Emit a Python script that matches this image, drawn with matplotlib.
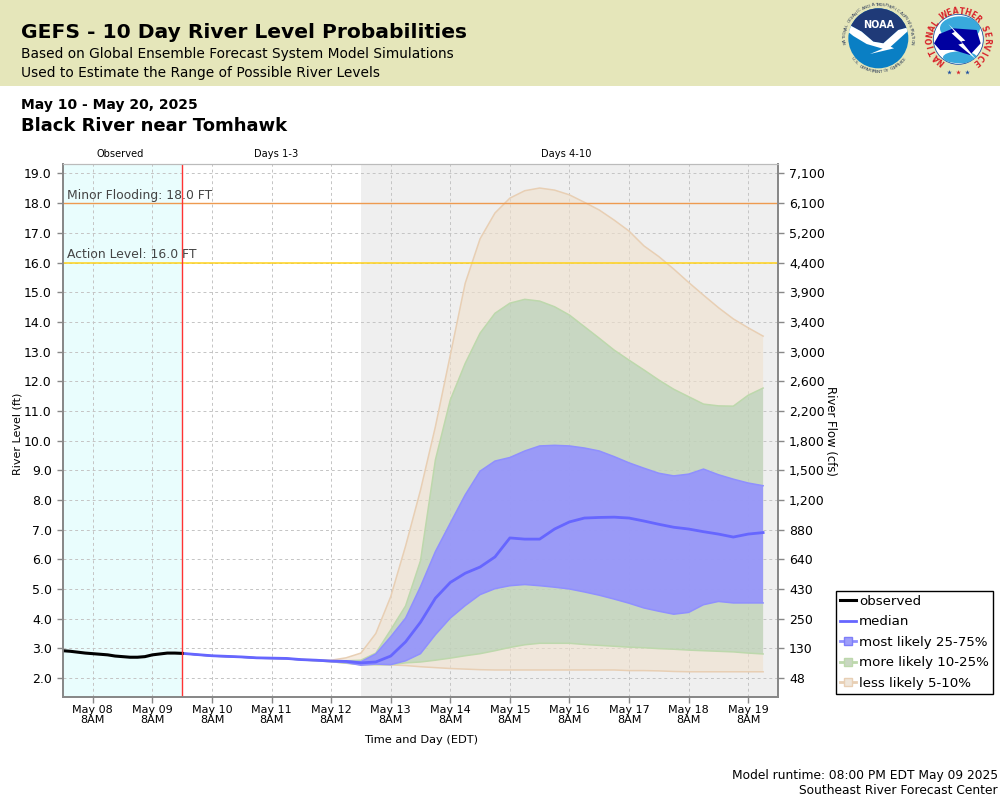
import numpy as np
import pandas as pd
import matplotlib
matplotlib.use('Agg')
import matplotlib.pyplot as plt
from matplotlib.lines import Line2D
from matplotlib.patches import Circle, Polygon, Ellipse, Rectangle

plt.rcParams['font.family'] = ['DejaVu Sans']

# --- Data ---
obs_times = pd.date_range('2025-05-07 20:00', periods=17, freq='3h')
observed = [2.92, 2.90, 2.87, 2.84, 2.82, 2.80, 2.78, 2.74, 2.72, 2.70, 2.70, 2.72, 2.78, 2.81, 2.84, 2.84, 2.83]

fc_times = pd.date_range('2025-05-09 20:00', periods=40, freq='6h')
median = [2.83, 2.79, 2.75, 2.73, 2.71, 2.68, 2.67, 2.66, 2.62, 2.60, 2.57, 2.56, 2.51, 2.54, 2.74, 3.22, 3.88, 4.69, 5.22, 5.53,
          5.74, 6.08, 6.72, 6.68, 6.68, 7.02, 7.26, 7.39, 7.41, 7.42, 7.39, 7.29, 7.18, 7.08, 7.02, 6.93, 6.85, 6.75, 6.85, 6.90]
p95 = [2.83, 2.79, 2.75, 2.73, 2.71, 2.68, 2.67, 2.66, 2.63, 2.61, 2.60, 2.68, 2.84, 3.50, 4.74, 6.45, 8.33, 10.47, 12.88, 15.30,
       16.80, 17.67, 18.17, 18.42, 18.51, 18.44, 18.28, 18.03, 17.77, 17.43, 17.06, 16.56, 16.20, 15.78, 15.33, 14.90, 14.48, 14.10, 13.80, 13.52]
p90 = [2.83, 2.79, 2.75, 2.73, 2.71, 2.68, 2.67, 2.66, 2.62, 2.60, 2.58, 2.58, 2.60, 2.84, 3.62, 4.43, 5.95, 9.35, 11.37, 12.60,
       13.62, 14.29, 14.63, 14.76, 14.70, 14.51, 14.23, 13.84, 13.45, 13.05, 12.71, 12.38, 12.04, 11.73, 11.48, 11.23, 11.17, 11.16, 11.53, 11.77]
p75 = [2.83, 2.79, 2.75, 2.73, 2.71, 2.68, 2.67, 2.66, 2.62, 2.60, 2.57, 2.57, 2.55, 2.81, 3.39, 4.02, 5.08, 6.26, 7.22, 8.17,
       8.97, 9.31, 9.43, 9.65, 9.82, 9.84, 9.82, 9.75, 9.65, 9.46, 9.25, 9.07, 8.90, 8.81, 8.87, 9.04, 8.85, 8.70, 8.57, 8.48]
p25 = [2.83, 2.78, 2.74, 2.72, 2.70, 2.67, 2.66, 2.65, 2.61, 2.59, 2.56, 2.52, 2.43, 2.47, 2.45, 2.58, 2.82, 3.46, 4.02, 4.44,
       4.81, 5.01, 5.11, 5.15, 5.11, 5.06, 5.00, 4.90, 4.79, 4.66, 4.52, 4.36, 4.25, 4.15, 4.21, 4.47, 4.58, 4.53, 4.53, 4.53]
p10 = [2.83, 2.78, 2.74, 2.72, 2.70, 2.67, 2.66, 2.65, 2.61, 2.58, 2.55, 2.50, 2.45, 2.45, 2.45, 2.51, 2.54, 2.60, 2.67, 2.75,
       2.82, 2.92, 3.03, 3.12, 3.17, 3.17, 3.17, 3.13, 3.10, 3.07, 3.04, 3.02, 2.99, 2.97, 2.94, 2.92, 2.90, 2.88, 2.84, 2.81]
p05 = [2.83, 2.78, 2.74, 2.72, 2.70, 2.67, 2.66, 2.65, 2.61, 2.58, 2.55, 2.50, 2.46, 2.45, 2.44, 2.42, 2.38, 2.35, 2.32, 2.30,
       2.28, 2.27, 2.27, 2.27, 2.27, 2.27, 2.27, 2.27, 2.27, 2.27, 2.25, 2.25, 2.24, 2.22, 2.21, 2.21, 2.21, 2.21, 2.21, 2.21]

stage_ticks = [2.0, 3.0, 4.0, 5.0, 6.0, 7.0, 8.0, 9.0, 10.0, 11.0, 12.0, 13.0, 14.0, 15.0, 16.0, 17.0, 18.0, 19.0]
flow_labels = ['48', '130', '250', '430', '640', '880', '1,200', '1,500', '1,800', '2,200', '2,600', '3,000',
               '3,400', '3,900', '4,400', '5,200', '6,100', '7,100']

HEADER = '#E5E6BA'
GRID = '#C4C4C4'
SPINE = '#888888'


def px_text(fig, x, y, s, **kw):
    """Figure text placed with pixel coordinates (origin top left)"""
    return fig.text(x / 1000, 1 - y / 800, s, **kw)


def ring_text(ax, cx, cy, r, s, start, end, flip=False, **kw):
    """Lay a string out around a circle, one character at a time"""
    angles = np.linspace(start, end, len(s))
    for ch, ang in zip(s, angles):
        a = np.radians(ang)
        rot = ang + 90 if flip else ang - 90
        ax.text(cx + r * np.cos(a), cy - r * np.sin(a), ch, rotation=rot, rotation_mode='anchor',
                ha='center', va='center', **kw)


def draw_noaa(ax):
    z = lambda X, Y: (820 + X / 3, Y / 3)
    cx, cy = z(175, 115)
    disc = Circle((cx, cy), 30, fc='#0A7FC4', ec='none')
    ax.add_patch(disc)
    dark = Polygon([z(*p) for p in [(70, 20), (280, 20), (280, 78), (235, 90), (190, 130), (160, 125), (125, 95), (70, 65)]],
                   fc='#1F3A78', ec='none')
    ax.add_patch(dark)
    dark.set_clip_path(disc)
    bird = Polygon([z(*p) for p in [(70, 65), (125, 95), (160, 125), (190, 130), (235, 90), (280, 78), (265, 92), (212, 140),
                                    (222, 145), (150, 162), (188, 146), (140, 132), (100, 108), (75, 88)]],
                   fc='white', ec='none')
    ax.add_patch(bird)
    bird.set_clip_path(disc)
    ax.text(cx, z(0, 76)[1], 'NOAA', color='white', fontsize=7, fontweight='bold', ha='center', va='center')
    ring_text(ax, cx, cy, 33.5, 'NATIONAL OCEANIC AND ATMOSPHERIC ADMINISTRATION', 188, -8, fontsize=3.2, color='#33415C')
    ring_text(ax, cx, cy, 33.5, 'U.S. DEPARTMENT OF COMMERCE', 218, 322, flip=True, fontsize=3.2, color='#33415C')


def draw_nws(ax):
    z = lambda X, Y: (820 + X / 3, Y / 3)
    cx, cy = z(415, 118)
    disc = Circle((cx, cy), 25, fc='white', ec='#1E4FA0', lw=0.6)
    ax.add_patch(disc)
    dome = Ellipse(z(420, 85), 40, 24, fc='#39A9DC', ec='none')
    ax.add_patch(dome)
    dome.set_clip_path(disc)
    low = Ellipse(z(420, 172), 34, 12, fc='#39A9DC', ec='none')
    ax.add_patch(low)
    low.set_clip_path(disc)
    blob = Polygon([z(*p) for p in [(342, 130), (358, 102), (400, 85), (470, 90), (482, 130), (450, 165), (400, 150), (360, 150)]],
                   fc='#0000A0', ec='none')
    ax.add_patch(blob)
    ax.add_patch(Polygon([z(*p) for p in [(385, 72), (436, 122), (424, 124), (468, 178), (415, 134), (428, 130), (395, 100), (404, 96)]],
                         fc='white', ec='none'))
    ring_text(ax, cx, cy, 28, 'NATIONAL WEATHER SERVICE', 232, -52, fontsize=5.5, fontweight='bold', color='#D8232A')
    for X, col in zip([388, 415, 440], ['#1E4FA0', '#D8232A', '#1E4FA0']):
        sx, sy = z(X, 215)
        ax.plot([sx], [sy], marker='*', ms=3.5, color=col, mec='none')


def plot_gefs():
    fig = plt.figure(figsize=(10, 8), dpi=100, facecolor='white')

    # header band and logos
    bg = fig.add_axes([0, 0, 1, 1], zorder=0)
    bg.set_xlim(0, 1000)
    bg.set_ylim(800, 0)
    bg.axis('off')
    bg.add_patch(Rectangle((0, 0), 1000, 86, fc=HEADER, ec='none'))
    draw_noaa(bg)
    draw_nws(bg)

    ax = fig.add_axes([63 / 1000, 103 / 800, 715 / 1000, 533 / 800], zorder=2)
    ax.set_facecolor('white')

    start = pd.Timestamp('2025-05-07 20:00')
    model_time = fc_times[0]
    day3 = pd.Timestamp('2025-05-12 20:00')
    end = pd.Timestamp('2025-05-19 20:00')
    ax.set_xlim(start, end)
    ax.set_ylim(1.36, 19.32)

    ax.axvspan(start, model_time, fc='#E9FDFD', ec='none', zorder=0)
    ax.axvspan(day3, end, fc='#EFEFEF', ec='none', zorder=0)

    ax.set_axisbelow(True)
    ax.grid(True, color=GRID, linestyle=(0, (3, 3)), linewidth=0.7)

    # bands, outermost first
    ax.fill_between(fc_times, p05, p95, fc='#F0E0CC', alpha=0.6, lw=0, zorder=2)
    ax.plot(fc_times, p95, color='#E8CFB4', lw=1.1, zorder=2.1)
    ax.plot(fc_times, p05, color='#E8CFB4', lw=1.1, zorder=2.1)
    ax.fill_between(fc_times, p10, p90, fc='#AFCEB3', alpha=0.6, lw=0, zorder=3)
    ax.plot(fc_times, p90, color='#BDD8AC', lw=1.1, zorder=3.1)
    ax.plot(fc_times, p10, color='#BDD8AC', lw=1.1, zorder=3.1)
    ax.fill_between(fc_times, p25, p75, fc='#9492FF', alpha=0.88, lw=0, zorder=4)
    ax.plot(fc_times, p75, color='#8F8FFF', lw=1.1, zorder=4.1)
    ax.plot(fc_times, p25, color='#8F8FFF', lw=1.1, zorder=4.1)

    ax.plot(fc_times, median, color='#6666FF', lw=2, zorder=5)
    ax.plot(obs_times, observed, color='black', lw=2.2, zorder=5)

    ax.axhline(18.0, color='#EE9A50', lw=1, zorder=6)
    ax.axhline(16.0, color='#FFD21A', lw=1.1, zorder=6)
    ax.axvline(model_time, color='#FF3333', lw=1, zorder=6)
    ax.text(pd.Timestamp('2025-05-07 21:30'), 18.04, 'Minor Flooding: 18.0 FT', color='#444444', fontsize=8.9, va='bottom', zorder=7)
    ax.text(pd.Timestamp('2025-05-07 21:30'), 16.04, 'Action Level: 16.0 FT', color='#444444', fontsize=8.9, va='bottom', zorder=7)

    # axes furniture
    tick_days = pd.date_range('2025-05-08 08:00', '2025-05-19 08:00', freq='D')
    ax.set_xticks(tick_days)
    ax.set_xticklabels([d.strftime('%b %d') + '\n8AM' for d in tick_days], fontsize=8, linespacing=1.0)
    ax.set_yticks(stage_ticks)
    ax.set_yticklabels(['%.1f' % v for v in stage_ticks], fontsize=9)
    ax.tick_params(axis='x', color=SPINE, length=4, width=1, pad=1.5)
    ax.tick_params(axis='y', color=SPINE, length=4, width=1, pad=4)

    ax2 = ax.twinx()
    ax2.set_ylim(ax.get_ylim())
    ax2.set_yticks(stage_ticks)
    ax2.set_yticklabels(flow_labels, fontsize=9)
    ax2.tick_params(axis='y', color=SPINE, length=4, width=1, pad=4)

    for a in (ax, ax2):
        for side in ('left', 'bottom', 'right'):
            a.spines[side].set_color(SPINE)
            a.spines[side].set_linewidth(1.3)
        a.spines['top'].set_color('#BBBBBB')
        a.spines['top'].set_linewidth(0.8)

    # legend from proxies
    handles = [
        Line2D([], [], color='black', lw=2.2),
        Line2D([], [], color='#6666FF', lw=2),
        Line2D([], [], color='#9090FF', lw=2, marker='s', ms=6, mfc='#9E9EF9', mec='#7E7EF9'),
        Line2D([], [], color='#BDD8AC', lw=2, marker='s', ms=6, mfc='#C9D7C2', mec='#BDD8AC'),
        Line2D([], [], color='#E8CFB4', lw=2, marker='s', ms=6, mfc='#EFE6DB', mec='#E8CFB4'),
    ]
    labels = ['observed', 'median', 'most likely 25-75%', 'more likely 10-25%', 'less likely 5-10%']
    leg = fig.legend(handles, labels, loc='upper left', bbox_to_anchor=(836 / 1000, 1 - 591 / 800), fontsize=9.6,
                     fancybox=False, framealpha=1, edgecolor='black', handlelength=1.18, handletextpad=0.25,
                     labelspacing=0.56, borderpad=0.3, borderaxespad=0)
    leg.get_frame().set_linewidth(1)

    # text
    px_text(fig, 21, 33, 'GEFS - 10 Day River Level Probabilities', fontsize=14.55, fontweight='bold', va='center')
    px_text(fig, 21, 54, 'Based on Global Ensemble Forecast System Model Simulations', fontsize=9.95, va='center')
    px_text(fig, 21, 73, 'Used to Estimate the Range of Possible River Levels', fontsize=9.95, va='center')
    px_text(fig, 21, 105, 'May 10 - May 20, 2025', fontsize=10, fontweight='bold', va='center')
    px_text(fig, 21, 126, 'Black River near Tomhawk', fontsize=13, fontweight='bold', va='center')
    px_text(fig, 120, 154, 'Observed', fontsize=7.1, ha='center', va='center')
    px_text(fig, 276, 154, 'Days 1-3', fontsize=7.1, ha='center', va='center')
    px_text(fig, 566, 154, 'Days 4-10', fontsize=7.1, ha='center', va='center')
    px_text(fig, 18, 434, 'River Level (ft)', fontsize=8, rotation=90, ha='center', va='center')
    px_text(fig, 831, 431, 'River Flow (cfs)', fontsize=8.4, rotation=270, ha='center', va='center')
    px_text(fig, 421, 740, 'Time and Day (EDT)', fontsize=8.2, ha='center', va='center')
    px_text(fig, 998, 775, 'Model runtime: 08:00 PM EDT May 09 2025', fontsize=8.8, ha='right', va='center')
    px_text(fig, 998, 791, 'Southeast River Forecast Center', fontsize=8.8, ha='right', va='center')

    return fig


fig = plot_gefs()
fig.savefig('out.png', dpi=100)
plt.close(fig)
